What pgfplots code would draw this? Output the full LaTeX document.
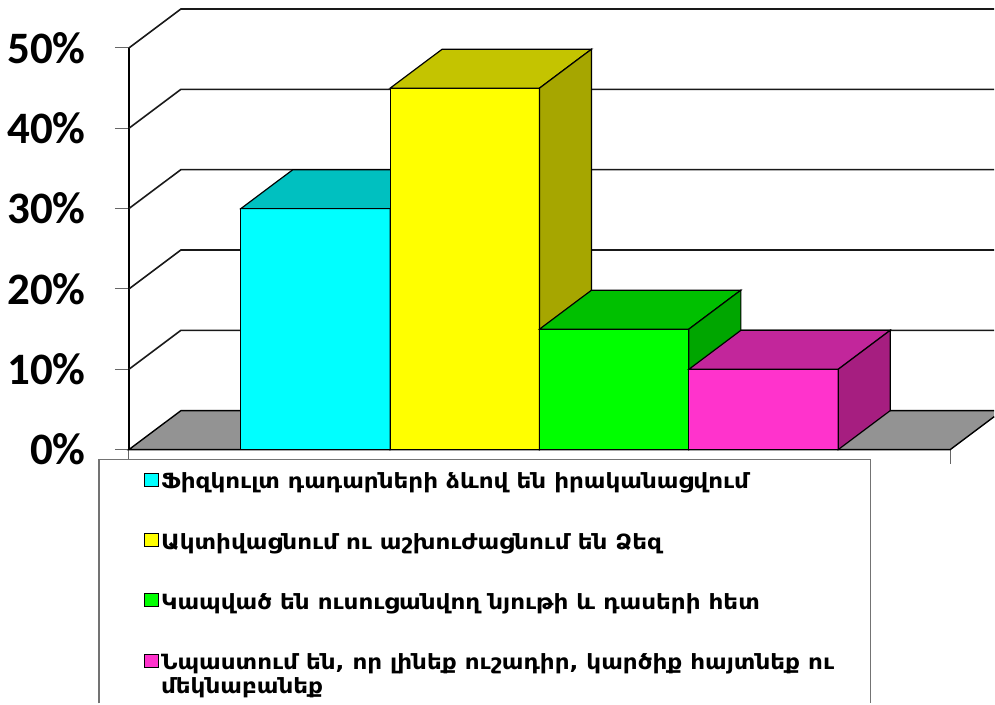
\documentclass[border=0pt]{standalone}
\usepackage{fontspec}
\usepackage{pgfplots}
\pgfplotsset{compat=1.18}
\setmainfont{Carlito}
\newfontfamily\armfont[FakeStretch=1.1]{DejaVu Sans}
\definecolor{cyanF}{RGB}{0,255,255}
\definecolor{cyanT}{RGB}{0,192,192}
\definecolor{cyanS}{RGB}{0,166,166}
\definecolor{yelF}{RGB}{255,255,0}
\definecolor{yelT}{RGB}{196,196,0}
\definecolor{yelS}{RGB}{166,166,0}
\definecolor{grnF}{RGB}{0,255,0}
\definecolor{grnT}{RGB}{0,192,0}
\definecolor{grnS}{RGB}{0,166,0}
\definecolor{magF}{RGB}{255,51,204}
\definecolor{magT}{RGB}{194,38,155}
\definecolor{magS}{RGB}{166,30,128}
\definecolor{floorgray}{RGB}{147,147,147}
\pgfplotsset{sqleg/.style={legend image code/.code={\draw[draw=black, line width=1pt, fill=#1] (0pt,-4.5pt) rectangle (14pt,8.5pt);}}}
\begin{document}
\begin{tikzpicture}
\begin{axis}[
  scale only axis, width=822pt, height=402pt,
  xmin=-0.25, xmax=5.25, ymin=0, ymax=50,
  enlargelimits=false, clip=false,
  axis lines*=left,
  axis line style={line width=1.5pt, black},
  tick align=outside, major tick length=14pt,
  tick style={draw=black!60, line width=1pt},
  xtick={-0.25,5.25}, xticklabels={},
  ytick={0,10,20,30,40,50},
  /pgf/number format/assume math mode=true,
  yticklabel={\pgfmathprintnumber{\tick}\%},
  yticklabel style={font=\bfseries\fontsize{45}{50}\selectfont, anchor=east, inner sep=0pt, xshift=-29pt},
  legend cell align=left,
  legend style={at={(0.01825,-0.0522)}, anchor=north west, draw=none, fill=none, inner sep=0pt,
    font=\armfont\bfseries\fontsize{21}{24}\selectfont, row sep=39pt},
]
% picture extent (995 x 704 px)
\path (axis cs:-1.1132,-31.59) rectangle (axis cs:5.5445,55.97);
% back wall grid lines
\draw[black!90, line width=1.6pt] (axis cs:-0.25,10) -- (axis cs:0.098,14.85) -- (axis cs:5.5445,14.85);
\draw[black!90, line width=1.6pt] (axis cs:-0.25,20) -- (axis cs:0.098,24.85) -- (axis cs:5.5445,24.85);
\draw[black!90, line width=1.6pt] (axis cs:-0.25,30) -- (axis cs:0.098,34.85) -- (axis cs:5.5445,34.85);
\draw[black!90, line width=1.6pt] (axis cs:-0.25,40) -- (axis cs:0.098,44.85) -- (axis cs:5.5445,44.85);
\draw[black!90, line width=1.6pt] (axis cs:-0.25,50) -- (axis cs:0.098,54.85) -- (axis cs:5.5445,54.85);
% floor
\fill[floorgray] (axis cs:-0.25,0) -- (axis cs:5.25,0) -- (axis cs:5.5445,4.105) -- (axis cs:5.5445,4.85) -- (axis cs:0.098,4.85) -- cycle;
\draw[black, line width=1.4pt] (axis cs:5.5445,4.105) -- (axis cs:5.25,0) -- (axis cs:-0.25,0) -- (axis cs:0.098,4.85) -- (axis cs:5.5445,4.85);
% bar 1
\addplot[ybar, bar width=1, bar shift=0pt, fill=cyanF, draw=black, line width=1.2pt, forget plot] coordinates {(1,30)};
\addplot[fill=cyanT, draw=black, line width=1.2pt, forget plot] coordinates {(0.5,30) (1.5,30) (1.848,34.85) (0.848,34.85)} -- cycle;
\addplot[fill=cyanS, draw=black, line width=1.2pt, forget plot] coordinates {(1.5,0) (1.848,4.85) (1.848,34.85) (1.5,30)} -- cycle;
% bar 2
\addplot[ybar, bar width=1, bar shift=0pt, fill=yelF, draw=black, line width=1.2pt, forget plot] coordinates {(2,45)};
\addplot[fill=yelT, draw=black, line width=1.2pt, forget plot] coordinates {(1.5,45) (2.5,45) (2.848,49.85) (1.848,49.85)} -- cycle;
\addplot[fill=yelS, draw=black, line width=1.2pt, forget plot] coordinates {(2.5,0) (2.848,4.85) (2.848,49.85) (2.5,45)} -- cycle;
% bar 3
\addplot[ybar, bar width=1, bar shift=0pt, fill=grnF, draw=black, line width=1.2pt, forget plot] coordinates {(3,15)};
\addplot[fill=grnT, draw=black, line width=1.2pt, forget plot] coordinates {(2.5,15) (3.5,15) (3.848,19.85) (2.848,19.85)} -- cycle;
\addplot[fill=grnS, draw=black, line width=1.2pt, forget plot] coordinates {(3.5,0) (3.848,4.85) (3.848,19.85) (3.5,15)} -- cycle;
% bar 4
\addplot[ybar, bar width=1, bar shift=0pt, fill=magF, draw=black, line width=1.2pt, forget plot] coordinates {(4,10)};
\addplot[fill=magT, draw=black, line width=1.2pt, forget plot] coordinates {(3.5,10) (4.5,10) (4.848,14.85) (3.848,14.85)} -- cycle;
\addplot[fill=magS, draw=black, line width=1.2pt, forget plot] coordinates {(4.5,0) (4.848,4.85) (4.848,14.85) (4.5,10)} -- cycle;
% legend frame (bottom edge lies below the picture)
\fill[white] (axis cs:-0.4507,-1.244) rectangle (axis cs:4.715,-31.59);
\draw[draw=black!55, line width=1.3pt] (axis cs:-0.4507,-31.59) -- (axis cs:-0.4507,-1.244) -- (axis cs:4.715,-1.244) -- (axis cs:4.715,-31.59);
\addlegendimage{sqleg=cyanF}
\addlegendentry{Ֆիզկուլտ դադարների ձևով են իրականացվում}
\addlegendimage{sqleg=yelF}
\addlegendentry{Ակտիվացնում ու աշխուժացնում են Ձեզ}
\addlegendimage{sqleg=grnF}
\addlegendentry{Կապված են ուսուցանվող նյութի և դասերի հետ}
\addlegendimage{sqleg=magF}
\addlegendentry{\parbox[t]{690pt}{Նպաստում են, որ լինեք ուշադիր, կարծիք հայտնեք ու\\մեկնաբանեք}}
\end{axis}
\end{tikzpicture}
\end{document}
